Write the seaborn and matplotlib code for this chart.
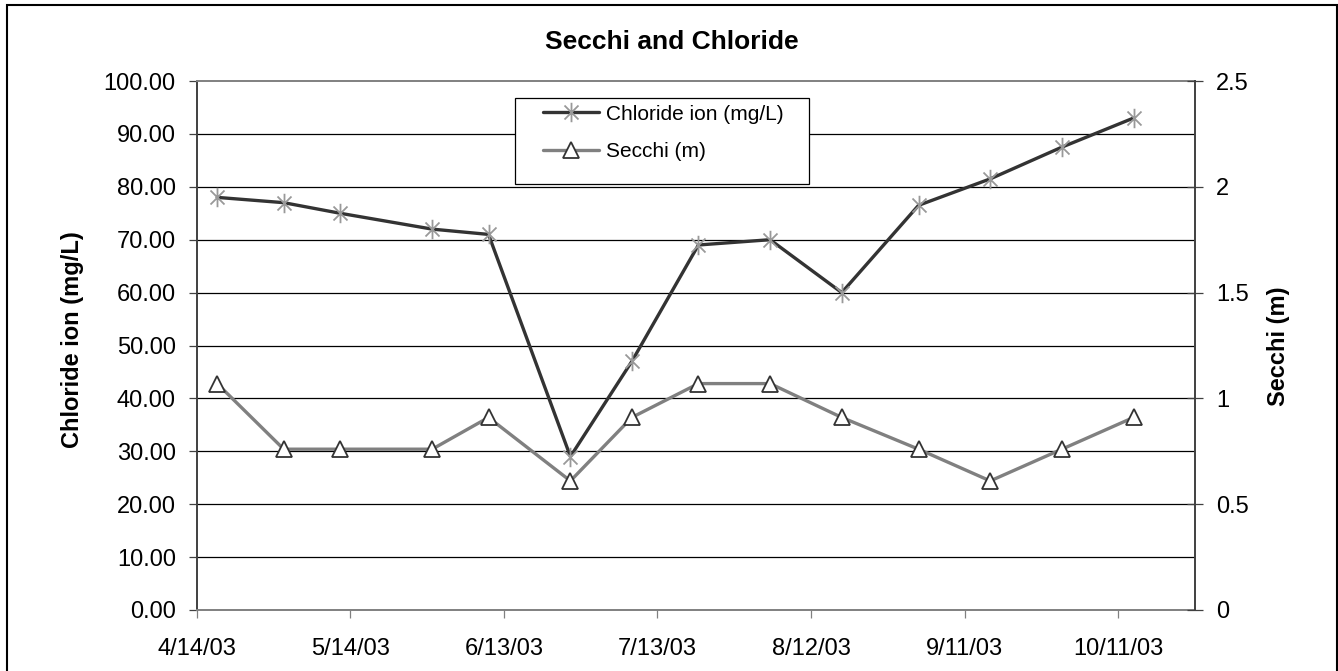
import matplotlib
matplotlib.use("Agg")
import matplotlib.pyplot as plt
import matplotlib.dates as mdates
from matplotlib.path import Path
from matplotlib.patches import Rectangle
import numpy as np
import pandas as pd
import seaborn as sns

# ---- data -------------------------------------------------------------
sample_dates = ["2003-04-18", "2003-05-01", "2003-05-12", "2003-05-30",
                "2003-06-10", "2003-06-26", "2003-07-08", "2003-07-21",
                "2003-08-04", "2003-08-18", "2003-09-02", "2003-09-16",
                "2003-09-30", "2003-10-14"]
chloride_mg_l = [78, 77, 75, 72, 71, 29, 47, 69, 70, 60, 76.5, 81.5, 87.5, 93]
secchi_m = [1.07, 0.76, 0.76, 0.76, 0.91, 0.61, 0.91, 1.07, 1.07, 0.91,
            0.76, 0.61, 0.76, 0.91]
x_tick_labels = ["4/14/03", "5/14/03", "6/13/03", "7/13/03", "8/12/03",
                 "9/11/03", "10/11/03"]
x_range = ["2003-04-14", "2003-10-26"]
left_ticks = [0, 10, 20, 30, 40, 50, 60, 70, 80, 90, 100]
right_ticks = [0, 0.5, 1, 1.5, 2, 2.5]
right_tick_labels = ["0", "0.5", "1", "1.5", "2", "2.5"]

df = pd.DataFrame({
    "date": pd.to_datetime(sample_dates),
    "chloride": chloride_mg_l,
    "secchi": secchi_m,
})

# ---- style ------------------------------------------------------------
sns.set_style("white")
plt.rcParams["font.family"] = ["Liberation Sans", "DejaVu Sans"]
plt.rcParams["text.color"] = "black"
plt.rcParams["xtick.labelcolor"] = "black"
plt.rcParams["ytick.labelcolor"] = "black"

W, H = 1338, 671
fig = plt.figure(figsize=(W / 100, H / 100), dpi=100)
fig.patch.set_facecolor("white")


def fx(px):
    return px / W


def fy(py):
    return 1 - py / H


ax_l, ax_r, ax_t, ax_b = 196.7, 1195, 81, 610
ax1 = fig.add_axes([fx(ax_l), fy(ax_b), fx(ax_r - ax_l), (ax_b - ax_t) / H])
ax2 = ax1.twinx()

# asterisk marker: vertical bar plus an X
asterisk = Path(
    [(0, -1), (0, 1), (-0.72, -0.72), (0.72, 0.72), (-0.72, 0.72), (0.72, -0.72)],
    [Path.MOVETO, Path.LINETO, Path.MOVETO, Path.LINETO, Path.MOVETO, Path.LINETO],
)

sns.lineplot(data=df, x="date", y="chloride", ax=ax1, color="#333333",
             linewidth=2.4, marker=asterisk, markersize=14,
             markerfacecolor="none", markeredgecolor="#999999",
             markeredgewidth=1.3, label="Chloride ion (mg/L)", legend=False)
sns.lineplot(data=df, x="date", y="secchi", ax=ax2, color="#808080",
             linewidth=2.4, marker="^", markersize=11.5,
             markerfacecolor="white", markeredgecolor="#333333",
             markeredgewidth=1.3, label="Secchi (m)", legend=False)

# ---- axes -------------------------------------------------------------
tick_pos = pd.to_datetime(x_tick_labels, format="%m/%d/%y")
ax1.set_xlim(pd.to_datetime(x_range[0]), pd.to_datetime(x_range[1]))
ax1.set_xticks(mdates.date2num(tick_pos))
ax1.set_xticklabels(x_tick_labels)

ax1.set_ylim(0, 100)
ax1.set_yticks(left_ticks)
ax1.set_yticklabels([f"{v:.2f}" for v in left_ticks])
ax2.set_ylim(0, 2.5)
ax2.set_yticks(right_ticks)
ax2.set_yticklabels(right_tick_labels)

for a in (ax1, ax2):
    a.set_xlabel("")
    a.set_ylabel("")

ax1.grid(False)
ax2.grid(False)
ax1.yaxis.grid(True, color="black", linewidth=0.9)
ax1.xaxis.grid(False)
gl = ax1.get_ygridlines()
gl[0].set_visible(False)
gl[-1].set_visible(False)
ax1.set_axisbelow(True)

ax1.tick_params(axis="y", direction="out", length=6, width=0.9,
                color="#404040", labelsize=17, pad=9, left=True,
                labelcolor="black")
ax1.tick_params(axis="x", direction="out", length=6, width=0.9,
                color="#808080", labelsize=17, pad=14, bottom=True,
                labelcolor="black")
ax2.tick_params(axis="y", direction="inout", length=12, width=0.9,
                color="#404040", labelsize=17, pad=9, right=True,
                labelcolor="black")

for s in ("top", "bottom"):
    ax1.spines[s].set_color("#808080")
    ax1.spines[s].set_linewidth(1.4)
ax1.spines["left"].set_color("#404040")
ax1.spines["left"].set_linewidth(1.4)
ax2.spines["right"].set_color("#404040")
ax2.spines["right"].set_linewidth(1.4)
for s in ("top", "bottom", "left"):
    ax2.spines[s].set_visible(False)
ax1.spines["right"].set_visible(False)

# ---- texts ------------------------------------------------------------
fig.text(fx(672), fy(49), "Secchi and Chloride", ha="center", va="baseline",
         fontsize=19, fontweight="bold", color="black")
fig.text(fx(73), fy(340), "Chloride ion (mg/L)", rotation=90, ha="center",
         va="center", fontsize=17, fontweight="bold", color="black")
fig.text(fx(1278), fy(346), "Secchi (m)", rotation=90, ha="center",
         va="center", fontsize=17, fontweight="bold", color="black")

# ---- legend -----------------------------------------------------------
fig.patches.append(Rectangle((fx(515), fy(184.3)), fx(809.3 - 515),
                             (184.3 - 98.3) / H, transform=fig.transFigure,
                             facecolor="white", edgecolor="black",
                             linewidth=0.9, zorder=4))
h1, l1 = ax1.get_legend_handles_labels()
h2, l2 = ax2.get_legend_handles_labels()
leg = fig.legend(h1 + h2, l1 + l2, loc="upper left",
                 bbox_to_anchor=(fx(543), fy(104.7)), frameon=False,
                 fontsize=15, handlelength=2.7, handletextpad=0.3,
                 labelspacing=0.9, borderpad=0, borderaxespad=0)
for t in leg.get_texts():
    t.set_color("black")

# outer chart border
fig.patches.append(Rectangle((fx(7), fy(700)), fx(1336.7 - 7), (700 - 5) / H,
                             transform=fig.transFigure, facecolor="none",
                             edgecolor="black", linewidth=1.5, zorder=6))

fig.savefig("out.png", dpi=100)
